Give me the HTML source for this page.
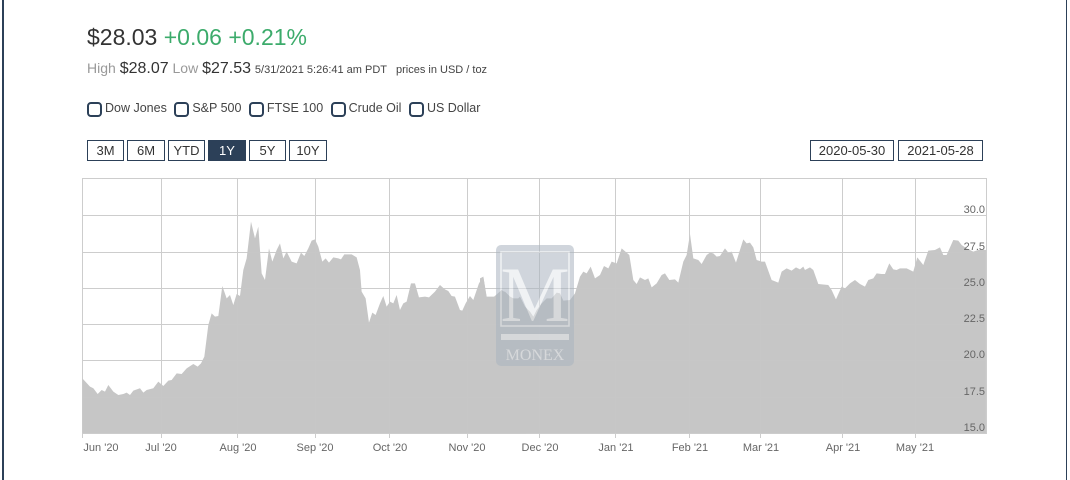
<!DOCTYPE html>
<html><head><meta charset="utf-8"><style>
body{margin:0;width:1070px;height:480px;background:#fff;font-family:"Liberation Sans",sans-serif;position:relative;overflow:hidden}
.a{position:absolute;white-space:nowrap}
.cb{display:inline-block;width:15px;height:15px;border:2px solid #2c4058;border-radius:4px;vertical-align:-5px;margin-right:3px;box-sizing:border-box}
.btn{position:absolute;top:140px;height:21px;border:1px solid #2c4058;box-sizing:border-box;font-size:13px;color:#333;text-align:center;line-height:19px}
</style></head><body>
<div class="a" style="left:2px;top:0;width:2px;height:480px;background:#2c4058"></div>
<div class="a" style="left:1066px;top:0;width:1px;height:480px;background:#2c4058"></div>
<div class="a" style="left:87px;top:24px;font-size:23px;color:#333">$28.03 <span style="color:#3cab6b">+0.06 +0.21%</span></div>
<div class="a" style="left:87px;top:60px;font-size:14px;color:#999">High <span style="color:#333;font-size:16px">$28.07</span> Low <span style="color:#333;font-size:16px">$27.53</span> <span style="color:#444;font-size:11px">5/31/2021 5:26:41 am PDT &nbsp; prices in USD / toz</span></div>
<div class="a" style="left:87px;top:101px;font-size:12.5px;color:#444"><span class="cb"></span>Dow Jones <span class="cb" style="margin-left:4px"></span>S&amp;P 500 <span class="cb" style="margin-left:4px"></span>FTSE 100 <span class="cb" style="margin-left:4px"></span>Crude Oil <span class="cb" style="margin-left:4px"></span>US Dollar</div>
<div class="btn" style="left:87px;width:37px">3M</div>
<div class="btn" style="left:127px;width:38px">6M</div>
<div class="btn" style="left:168px;width:37px">YTD</div>
<div class="btn" style="left:208px;width:38px;background:#2c4058;color:#fff">1Y</div>
<div class="btn" style="left:249px;width:37px">5Y</div>
<div class="btn" style="left:289px;width:38px">10Y</div>
<div class="btn" style="left:810px;width:84px">2020-05-30</div>
<div class="btn" style="left:898px;width:85px">2021-05-28</div>
<svg class="a" style="left:0;top:0" width="1070" height="480">
<g fill="#c6c6c6">
<g transform="translate(75,170) scale(0.3333)"><polygon points="22,790 22,625 45,650 55,655 68,672 80,660 90,665 100,645 115,665 130,675 145,672 155,668 165,675 175,662 195,655 205,668 215,660 235,655 250,635 265,648 280,632 290,630 305,610 320,612 335,595 355,582 368,590 378,580 388,560 400,465 410,430 420,440 430,438 442,348 455,385 465,375 475,405 485,372 495,378 505,300 515,265 528,155 540,205 550,170 560,310 570,330 582,235 592,275 605,240 615,220 625,265 635,245 650,275 665,280 678,248 688,258 700,235 710,212 720,208 730,230 742,275 752,265 762,278 775,262 790,265 798,268 808,253 830,253 845,262 855,300 860,365 872,385 882,458 892,428 902,435 915,400 925,378 935,410 945,395 955,400 965,375 975,420 985,400 995,395 1008,340 1020,340 1032,382 1050,380 1062,382 1080,365 1095,345 1110,358 1120,363 1130,378 1140,380 1155,420 1162,422 1172,400 1185,378 1195,390 1212,340 1225,320 1235,382 1255,382 1280,360 1295,370 1310,385 1330,385 1352,415 1352,790"/></g>
<g transform="translate(480,170) scale(0.3333)"><polygon points="0,790 0,325 10,320 20,380 45,380 60,365 75,365 90,380 110,390 120,380 135,410 150,425 160,440 170,420 185,400 200,385 215,385 230,368 240,370 250,392 270,390 285,370 300,320 310,305 320,310 332,290 345,325 360,315 372,288 385,295 395,275 410,280 425,235 448,255 460,330 470,342 480,322 495,330 505,325 515,352 530,340 545,315 555,310 568,330 585,328 595,338 610,275 620,255 630,192 640,265 655,270 665,282 680,255 690,248 700,250 710,260 720,258 735,235 745,248 755,245 768,278 790,208 800,220 810,218 820,232 830,270 845,275 855,275 875,330 895,338 905,305 920,295 935,302 948,292 960,298 970,290 975,300 990,292 1000,300 1015,342 1045,345 1055,360 1068,388 1085,350 1095,355 1110,340 1125,330 1140,342 1155,350 1165,330 1180,325 1190,310 1205,312 1215,312 1228,280 1240,298 1250,300 1260,295 1280,295 1300,305 1312,262 1330,285 1345,242 1365,240 1380,232 1390,255 1400,255 1420,210 1435,212 1445,225 1460,235 1480,245 1500,238 1518,240 1518,790"/></g>
</g>
<g stroke="#c8c8c8" stroke-width="1" fill="none" opacity="0.9">
<path d="M82 178.5H986M82 215.5H986M82 252.5H986M82 288.5H986M82 324.5H986M82 360.5H986M82 397.5H986M82 433.5H986"/>
<path d="M82.5 178V438M161.5 178V438M237.5 178V438M315.5 178V438M389.5 178V438M467.5 178V438M539.5 178V438M615.5 178V438M689.5 178V438M760.5 178V438M842.5 178V438M915.5 178V438M986.5 178V434"/>
</g>
<g opacity="0.55">
<rect x="496" y="245" width="78" height="121" rx="5" fill="#aab4c0"/>
<rect x="501" y="252" width="68" height="74" fill="none" stroke="#e4e8ec" stroke-width="1.5"/>
<rect x="501" y="334" width="68" height="6" fill="#e4e8ec"/>
<text x="535" y="321" font-family="Liberation Serif,serif" font-size="78" fill="#e4e8ec" text-anchor="middle">M</text>
<text x="535" y="360" font-family="Liberation Serif,serif" font-size="16" fill="#e4e8ec" text-anchor="middle">MONEX</text>
</g>
<g font-size="11" fill="#666" text-anchor="end">
<text x="985" y="213">30.0</text><text x="985" y="250">27.5</text><text x="985" y="286">25.0</text><text x="985" y="322">22.5</text><text x="985" y="358">20.0</text><text x="985" y="395">17.5</text><text x="985" y="431">15.0</text>
</g>
<g font-size="11" fill="#666" text-anchor="middle">
<text x="101" y="451">Jun '20</text><text x="161" y="451">Jul '20</text><text x="238" y="451">Aug '20</text><text x="315" y="451">Sep '20</text><text x="390" y="451">Oct '20</text><text x="467" y="451">Nov '20</text><text x="540" y="451">Dec '20</text><text x="616" y="451">Jan '21</text><text x="690" y="451">Feb '21</text><text x="761" y="451">Mar '21</text><text x="843" y="451">Apr '21</text><text x="915" y="451">May '21</text>
</g>
</svg>
</body></html>
